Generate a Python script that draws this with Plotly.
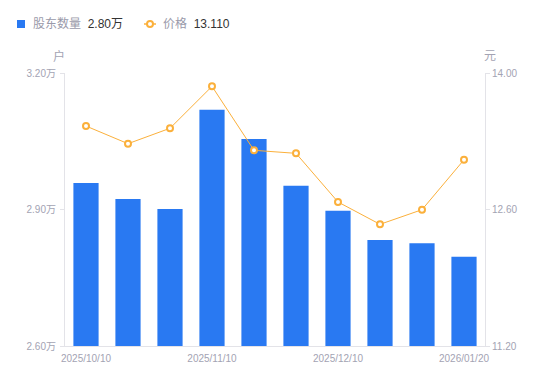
import plotly.graph_objects as go

dates = ["2025/10/10", "2025/10/20", "2025/10/31", "2025/11/10", "2025/11/20",
         "2025/11/28", "2025/12/10", "2025/12/19", "2025/12/31", "2026/01/20"]
holders = [29580, 29230, 29010, 31190, 30550, 29520, 28970, 28330, 28260, 27960]
price = [13.456, 13.275, 13.433, 13.863, 13.207, 13.176, 12.677, 12.448, 12.598, 13.110]

x_tickvals = ["2025/10/10", "2025/11/10", "2025/12/10", "2026/01/20"]
left_tickvals = [26000, 29000, 32000]
left_ticktext = ["2.60万", "2.90万", "3.20万"]
right_tickvals = [11.2, 12.6, 14.0]
right_ticktext = ["11.20", "12.60", "14.00"]

BLUE = "#2979f2"
ORANGE = "#fbb03b"
TICK = "#a3a3b3"
AXIS = "#e3e3e8"

# figure geometry (page body has an 8px margin)
L, T, PW, PH = 57, 65, 420, 273
W, H = 534, 365


def px(xf):
    return (xf - L) / PW


def py(yf):
    return (T + PH - yf) / PH


fig = go.Figure()
fig.add_trace(go.Bar(
    x=dates, y=holders, name="股东数量",
    marker=dict(color=BLUE, line=dict(width=0)),
    width=0.6, yaxis="y", showlegend=False,
))
fig.add_trace(go.Scatter(
    x=dates, y=price, name="价格", yaxis="y2", mode="lines+markers",
    line=dict(color=ORANGE, width=1),
    marker=dict(symbol="circle", size=6, color="white",
                line=dict(color=ORANGE, width=2)),
    showlegend=False,
))

font = "Liberation Sans, Arial, Noto Sans CJK SC, sans-serif"
fig.update_layout(
    width=W, height=H,
    margin=dict(l=L, r=W - L - PW, t=T, b=H - T - PH, autoexpand=False),
    paper_bgcolor="white", plot_bgcolor="white",
    font=dict(family=font, size=10, color=TICK),
    xaxis=dict(
        type="category", range=[-0.5, len(dates) - 0.5],
        tickmode="array", tickvals=x_tickvals, ticktext=x_tickvals,
        showline=True, linecolor=AXIS, linewidth=1,
        ticks="outside", ticklen=3, tickcolor="rgba(0,0,0,0)", showgrid=False,
        tickfont=dict(size=10, color=TICK), zeroline=False,
    ),
    yaxis=dict(
        range=[26000, 32000], tickmode="array", tickvals=left_tickvals,
        ticktext=left_ticktext, showline=True, linecolor=AXIS, linewidth=1,
        ticks="outside", ticklen=4, tickcolor=AXIS, showgrid=False, zeroline=False,
        tickfont=dict(size=10, color=TICK), ticklabelstandoff=2,
    ),
    yaxis2=dict(
        range=[11.2, 14.0], overlaying="y", side="right", tickmode="array",
        tickvals=right_tickvals, ticktext=right_ticktext, showline=True,
        linecolor=AXIS, linewidth=1, ticks="outside", ticklen=4, tickcolor=AXIS,
        showgrid=False, zeroline=False, tickfont=dict(size=10, color=TICK),
    ),
)

# axis unit labels
fig.add_annotation(text="户", xref="paper", yref="paper", x=px(51), y=py(48),
                   showarrow=False, font=dict(size=12, color=TICK),
                   xanchor="center", yanchor="middle")
fig.add_annotation(text="元", xref="paper", yref="paper", x=px(482), y=py(48),
                   showarrow=False, font=dict(size=12, color=TICK),
                   xanchor="center", yanchor="middle")

# custom legend
LY = 16
fig.add_shape(type="rect", xref="paper", yref="paper",
              x0=px(9), x1=px(17), y0=py(LY + 4), y1=py(LY - 4),
              fillcolor=BLUE, line=dict(width=0))
fig.add_annotation(xref="paper", yref="paper", x=px(23), y=py(LY), xanchor="left",
                   yanchor="middle", showarrow=False,
                   text="<span style='color:#9a9aaa'>股东数量</span>  <span style='color:#333'>2.80万</span>",
                   font=dict(size=12))
fig.add_shape(type="line", xref="paper", yref="paper",
              x0=px(136), x1=px(148), y0=py(LY), y1=py(LY),
              line=dict(color=ORANGE, width=1.5))
fig.add_shape(type="circle", xref="paper", yref="paper",
              x0=px(139), x1=px(145), y0=py(LY + 3), y1=py(LY - 3),
              fillcolor="white", line=dict(color=ORANGE, width=2))
fig.add_annotation(xref="paper", yref="paper", x=px(153), y=py(LY), xanchor="left",
                   yanchor="middle", showarrow=False,
                   text="<span style='color:#9a9aaa'>价格</span>  <span style='color:#333'>13.110</span>",
                   font=dict(size=12))

fig.write_html("out.html")
